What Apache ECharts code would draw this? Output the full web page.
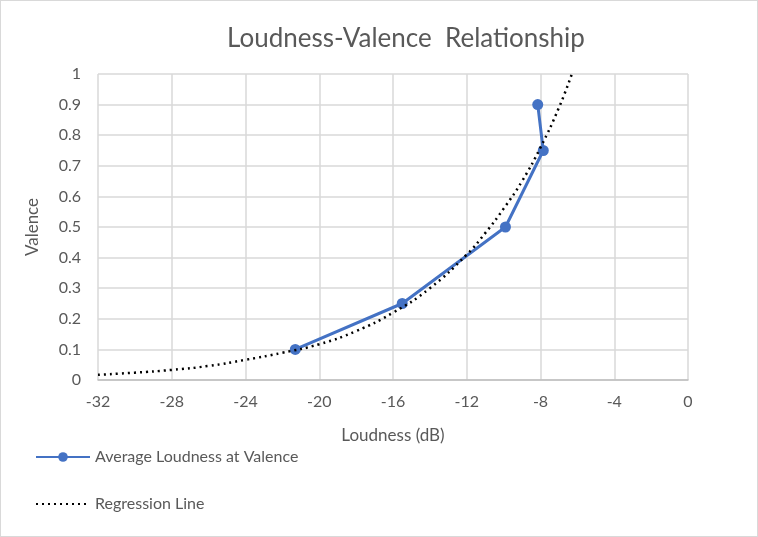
<!DOCTYPE html>
<html>
<head>
<meta charset="utf-8">
<script src="https://cdn.jsdelivr.net/npm/echarts@6/dist/echarts.min.js"></script>
<style>
html, body { margin: 0; padding: 0; background: #fff; }
#chart { width: 756px; height: 535px; border: 1px solid #d9d9d9; }
</style>
</head>
<body>
<div id="chart"></div>
<script>
// average loudness (dB) at each valence level
var loudness = [-21.3, -15.5, -9.9, -7.85, -8.15];
var valence = [0.1, 0.25, 0.5, 0.75, 0.9];

// regression curve
var regX = [-32, -30, -28, -26, -24, -22, -20, -18, -16, -14, -12, -11, -10, -9, -8, -7, -6.3];
var regY = [0.017, 0.024, 0.033, 0.046, 0.066, 0.089, 0.117, 0.16, 0.22, 0.30, 0.41, 0.48, 0.56, 0.65, 0.76, 0.89, 1.0];

var xTicks = [-32, -28, -24, -20, -16, -12, -8, -4, 0];

var pts = [];
for (var i = 0; i < loudness.length; i++) {
    pts.push([loudness[i], valence[i]]);
}
var reg = [];
for (var j = 0; j < regX.length; j++) {
    reg.push([regX[j], regY[j]]);
}

var font = 'Lato, "Noto Sans", sans-serif';
var myChart = echarts.init(document.getElementById('chart'));
var option = {
    animation: false,
    textStyle: {fontFamily: font},
    title: {
        text: 'Loudness-Valence  Relationship',
        left: 221,
        top: 20,
        textStyle: {fontFamily: font, fontSize: 26, fontWeight: 'normal', color: '#595959'}
    },
    legend: {
        orient: 'vertical',
        left: 29,
        top: 443,
        itemGap: 31,
        itemWidth: 54,
        itemHeight: 12,
        textStyle: {fontFamily: font, fontSize: 16, color: '#595959'},
        data: [
            {name: 'Average Loudness at Valence'},
            {name: 'Regression Line', itemStyle: {opacity: 0}}
        ]
    },
    grid: {left: 97, right: 69, top: 73, bottom: 156, containLabel: false},
    xAxis: {
        type: 'value',
        min: -32,
        max: 0,
        interval: 4,
        name: 'Loudness (dB)',
        nameLocation: 'middle',
        nameGap: 47,
        nameTextStyle: {fontFamily: font, fontSize: 17, color: '#595959'},
        axisLine: {show: true, lineStyle: {color: '#bfbfbf', width: 1.5}},
        axisTick: {show: false},
        axisLabel: {
            fontFamily: font, fontSize: 16, color: '#595959', margin: 14,
            formatter: function (v) { return xTicks.indexOf(v) >= 0 ? String(v) : ''; }
        },
        splitLine: {show: true, lineStyle: {color: '#d9d9d9', width: 1.5}}
    },
    yAxis: {
        type: 'value',
        min: 0,
        max: 1,
        interval: 0.1,
        name: 'Valence',
        nameLocation: 'middle',
        nameGap: 57,
        nameRotate: 90,
        nameTextStyle: {fontFamily: font, fontSize: 17, color: '#595959'},
        axisLine: {show: false},
        axisTick: {show: false},
        axisLabel: {
            fontFamily: font, fontSize: 16, color: '#595959', margin: 17,
            formatter: function (v) { return String(Math.round(v * 10) / 10); }
        },
        splitLine: {show: true, lineStyle: {color: '#d9d9d9', width: 1.5}}
    },
    series: [
        {
            name: 'Average Loudness at Valence',
            type: 'line',
            data: pts,
            symbol: 'circle',
            symbolSize: 11,
            itemStyle: {color: '#4472c4'},
            lineStyle: {color: '#4472c4', width: 3},
            z: 3
        },
        {
            name: 'Regression Line',
            type: 'line',
            data: reg,
            smooth: true,
            symbol: 'none',
            itemStyle: {color: '#000'},
            lineStyle: {color: '#000', width: 2.5, type: [2, 4]},
            z: 4
        }
    ]
};
myChart.setOption(option);
</script>
</body>
</html>
